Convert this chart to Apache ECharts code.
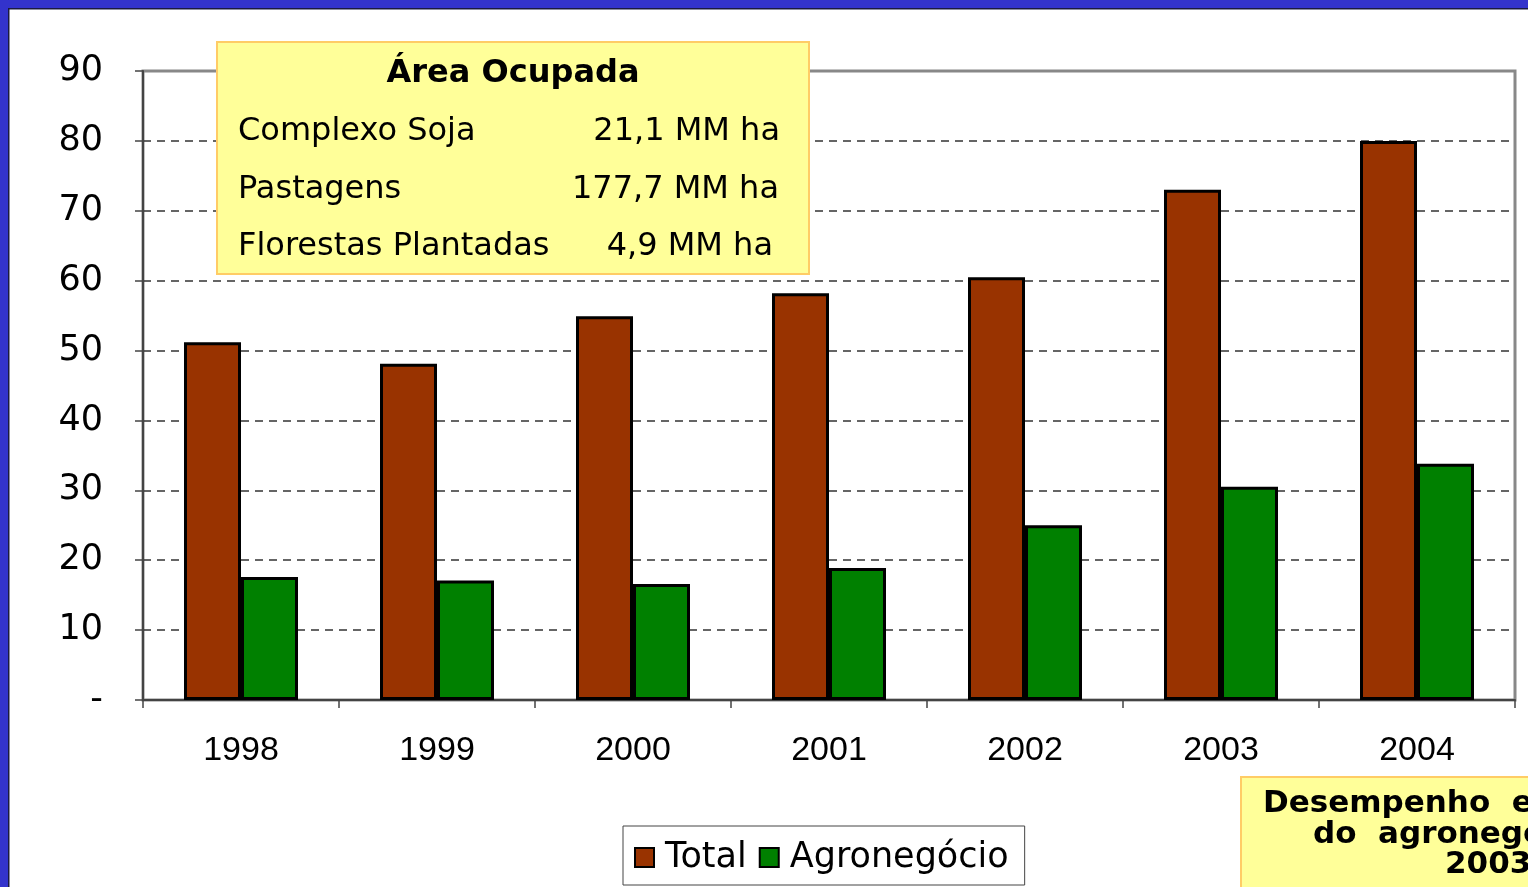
<!DOCTYPE html>
<html>
<head>
<meta charset="utf-8">
<script src="https://cdn.jsdelivr.net/npm/echarts@6/dist/echarts.min.js"></script>
<style>
html,body{margin:0;padding:0;background:#fff;}
#chart{width:1528px;height:887px;}
</style>
</head>
<body>
<div id="chart"></div>
<script>
const categories = ['1998', '1999', '2000', '2001', '2002', '2003', '2004'];
const totalValues = [51.2, 48.1, 54.9, 58.2, 60.5, 73.0, 80.0];
const agroValues = [17.6, 17.1, 16.6, 18.9, 25.0, 30.5, 33.8];
const seriesNames = ['Total', 'Agronegócio'];
const boxTitle = 'Área Ocupada';
const boxLabels = ['Complexo Soja', 'Pastagens', 'Florestas Plantadas'];
const boxValues = ['21,1 MM ha', '177,7 MM ha', '4,9 MM ha'];
const noteLines = ['Desempenho  econômico', 'do  agronegócio', '2003'];

const chart = echarts.init(document.getElementById('chart'), null, {renderer: 'canvas'});
const sans = 'DejaVu Sans';
const axisFont = 'Liberation Sans';
const boxValueRight = [563, 562, 556];

const Z = 200;
const option = {
  backgroundColor: '#ffffff',
  animation: false,
  grid: {
    left: 143, right: 13, top: 71, bottom: 187,
    show: true, borderColor: '#888888', borderWidth: 3, backgroundColor: 'transparent'
  },
  legend: {
    left: 623, top: 826,
    data: seriesNames,
    orient: 'horizontal',
    icon: 'rect',
    itemWidth: 19, itemHeight: 19, itemGap: 12,
    padding: [14, 16, 10, 11],
    borderColor: '#444', borderWidth: 1,
    backgroundColor: '#fff',
    textStyle: {fontFamily: sans, fontSize: 35, color: '#000', padding: [0, 0, 0, 6]}
  },
  xAxis: {
    type: 'category',
    data: categories,
    boundaryGap: true,
    axisLine: {show: true, lineStyle: {color: '#444', width: 2}},
    axisTick: {show: true, length: 8, inside: false, lineStyle: {color: '#444', width: 1.5}},
    axisLabel: {fontFamily: axisFont, fontSize: 34, color: '#000', margin: 34},
    splitLine: {show: false}
  },
  yAxis: {
    type: 'value',
    min: 0, max: 90, interval: 10,
    axisLine: {show: true, lineStyle: {color: '#444', width: 2}},
    axisTick: {show: true, length: 8, inside: false, lineStyle: {color: '#444', width: 1.5}},
    axisLabel: {
      fontFamily: sans, fontSize: 35, color: '#000', margin: 40, padding: [3, 0, 0, 0],
      formatter: v => (v === 0 ? '-' : String(v))
    },
    splitLine: {
      show: true, showMinLine: false, showMaxLine: false,
      lineStyle: {color: '#333', width: 1.5, type: [8, 6]}
    }
  },
  series: [
    {
      name: seriesNames[0], type: 'bar', data: totalValues,
      barWidth: 57, barGap: '0%',
      itemStyle: {color: '#993300', borderColor: '#000', borderWidth: 3}
    },
    {
      name: seriesNames[1], type: 'bar', data: agroValues,
      barWidth: 57, barGap: '0%',
      itemStyle: {color: '#008000', borderColor: '#000', borderWidth: 3}
    }
  ],
  graphic: [
    // blue frame
    {type: 'rect', left: 0, top: 0, z: Z + 10, shape: {width: 1528, height: 8}, style: {fill: '#3333CC'}},
    {type: 'rect', left: 0, top: 0, z: Z + 10, shape: {width: 8, height: 887}, style: {fill: '#3333CC'}},
    {type: 'rect', left: 8, top: 8, z: Z + 10, shape: {width: 1520, height: 1.5}, style: {fill: '#1a1a40'}},
    {type: 'rect', left: 8, top: 8, z: Z + 10, shape: {width: 1.5, height: 879}, style: {fill: '#1a1a40'}},
    // annotation box
    {
      type: 'group', left: 216, top: 41, z: Z,
      children: [
        {type: 'rect', z: Z, shape: {x: 0, y: 0, width: 592, height: 232}, style: {fill: '#FFFF99', stroke: '#FFCC66', lineWidth: 2}},
        {type: 'text', z: Z + 1, style: {text: boxTitle, x: 296, y: 32, textAlign: 'center', textVerticalAlign: 'middle', font: 'bold 32px "DejaVu Sans"', fill: '#000'}},
        ...boxLabels.map((t, i) => ({type: 'text', z: Z + 1, style: {text: t, x: 21, y: 90 + i * 57.5, textAlign: 'left', textVerticalAlign: 'middle', font: '32px "DejaVu Sans"', fill: '#000'}})),
        ...boxValues.map((t, i) => ({type: 'text', z: Z + 1, style: {text: t, x: boxValueRight[i], y: 90 + i * 57.5, textAlign: 'right', textVerticalAlign: 'middle', font: '32px "DejaVu Sans"', fill: '#000'}}))
      ]
    },
    // bottom-right note box (cut off by the page edge)
    {
      type: 'group', left: 1240, top: 776, z: Z,
      children: [
        {type: 'rect', z: Z, shape: {x: 0, y: 0, width: 400, height: 200}, style: {fill: '#FFFF99', stroke: '#FFCC66', lineWidth: 2}},
        {type: 'text', z: Z + 1, style: {text: noteLines[0], x: 22, y: 27, textAlign: 'left', textVerticalAlign: 'middle', font: 'bold 31px "DejaVu Sans"', fill: '#000'}},
        {type: 'text', z: Z + 1, style: {text: noteLines[1], x: 72, y: 58, textAlign: 'left', textVerticalAlign: 'middle', font: 'bold 31px "DejaVu Sans"', fill: '#000'}},
        {type: 'text', z: Z + 1, style: {text: noteLines[2], x: 204, y: 88, textAlign: 'left', textVerticalAlign: 'middle', font: 'bold 31px "DejaVu Sans"', fill: '#000'}}
      ]
    }
  ]
};
chart.setOption(option);
</script>
</body>
</html>
